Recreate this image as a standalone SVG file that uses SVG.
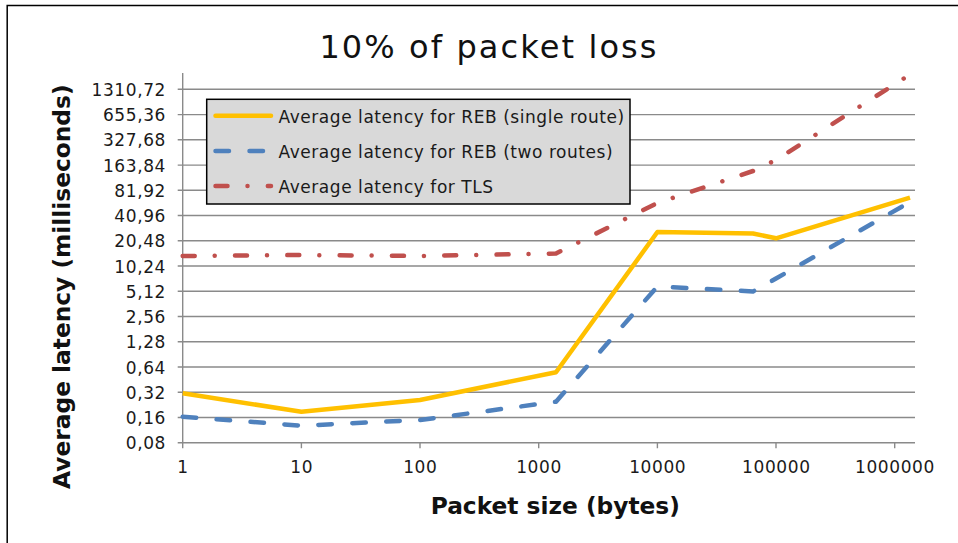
<svg xmlns="http://www.w3.org/2000/svg" width="958" height="543" viewBox="0 0 958 543">
  <style>
    .grid { stroke: #8a8a8a; stroke-width: 1.4; fill: none; }
    .tick { font-family: "DejaVu Sans", Verdana, sans-serif; font-size: 17px; letter-spacing: 0.6px; fill: #1a1a1a; }
    .ylab { text-anchor: end; }
    .xlab { text-anchor: middle; }
    .axtitle { font-family: "DejaVu Sans", Verdana, sans-serif; font-size: 23.3px; font-weight: bold; fill: #111; text-anchor: middle; }
    .legtext { font-family: "DejaVu Sans", Verdana, sans-serif; font-size: 17px; letter-spacing: 0.55px; fill: #1a1a1a; }
    .s-single { stroke: #FFC000; stroke-width: 4.5; fill: none; stroke-linejoin: round; }
    .s-two { stroke: #4F81BD; stroke-width: 4.5; fill: none; stroke-linecap: round; stroke-linejoin: round; stroke-dasharray: 13.5 20.5; }
    .s-tls { stroke: #C0504D; stroke-width: 4.5; fill: none; stroke-linecap: round; stroke-linejoin: round; stroke-dasharray: 12 20 0.01 20.3; }
  </style>

  <rect x="0" y="0" width="958" height="543" fill="#ffffff"/>
  <!-- chart frame (top and left edges) -->
  <path d="M7.2 543 V5.6 H958" fill="none" stroke="#000" stroke-width="1.5"/>

  <!-- title -->
  <text x="489" y="58" font-family="DejaVu Sans, Verdana, sans-serif" font-size="32" letter-spacing="2.1" fill="#111" text-anchor="middle">10% of packet loss</text>

  <!-- horizontal gridlines with outward ticks (log2 scale, 0.08 .. 1310.72) -->
  <g id="gridlines" class="grid">
    <path d="M177.7 89.3 H915 M177.7 114.6 H915 M177.7 139.8 H915 M177.7 165.1 H915 M177.7 190.3 H915 M177.7 215.5 H915 M177.7 240.8 H915 M177.7 266 H915 M177.7 291.3 H915 M177.7 316.5 H915 M177.7 341.7 H915 M177.7 367 H915 M177.7 392.2 H915 M177.7 417.5 H915"/>
  </g>

  <!-- axes -->
  <g id="axes" class="grid">
    <path d="M182.7 73 V448.2"/>
    <path d="M177.7 442.7 H915"/>
    <path d="M301.4 442.7 V448.2 M420 442.7 V448.2 M538.7 442.7 V448.2 M657.4 442.7 V448.2 M776 442.7 V448.2 M894.7 442.7 V448.2"/>
  </g>

  <!-- y tick labels -->
  <g id="y-labels" class="tick ylab">
    <text x="166" y="95.8">1310,72</text>
    <text x="166" y="121.1">655,36</text>
    <text x="166" y="146.3">327,68</text>
    <text x="166" y="171.6">163,84</text>
    <text x="166" y="196.8">81,92</text>
    <text x="166" y="222">40,96</text>
    <text x="166" y="247.3">20,48</text>
    <text x="166" y="272.5">10,24</text>
    <text x="166" y="297.8">5,12</text>
    <text x="166" y="323">2,56</text>
    <text x="166" y="348.2">1,28</text>
    <text x="166" y="373.5">0,64</text>
    <text x="166" y="398.7">0,32</text>
    <text x="166" y="424">0,16</text>
    <text x="166" y="449.2">0,08</text>
  </g>

  <!-- x tick labels -->
  <g id="x-labels" class="tick xlab">
    <text x="183" y="473">1</text>
    <text x="301.7" y="473">10</text>
    <text x="420.3" y="473">100</text>
    <text x="539" y="473">1000</text>
    <text x="657.7" y="473">10000</text>
    <text x="776.3" y="473">100000</text>
    <text x="895" y="473">1000000</text>
  </g>

  <!-- axis titles -->
  <text id="x-title" class="axtitle" x="555.3" y="514">Packet size (bytes)</text>
  <text id="y-title" class="axtitle" transform="translate(70 286.7) rotate(-90)">Average latency (milliseconds)</text>

  <!-- data series -->
  <g id="series">
    <polyline id="series-tls" class="s-tls" points="182.7,256 301.4,255 420,256 556,253.5 657.4,203 753,171 776,160 910,74.5"/>
    <polyline id="series-two" class="s-two" points="182.7,416.7 301.4,425.7 420,420 556,401.7 657.4,286.5 753,291.5 776,278.5 910,202"/>
    <polyline id="series-single" class="s-single" points="182.7,393.3 301.4,411.7 420,400 556,372.3 657.4,232 753,233.5 776,238.3 910,197.7"/>
  </g>

  <!-- legend -->
  <g id="legend">
    <rect x="206.7" y="99.3" width="423.3" height="104.7" fill="#d9d9d9" stroke="#000" stroke-width="1.5"/>
    <line class="s-single" x1="215.5" y1="115.7" x2="271" y2="115.7" stroke-linecap="round"/>
    <line class="s-two" x1="215.5" y1="151" x2="271" y2="151"/>
    <line class="s-tls" x1="215.5" y1="186" x2="271" y2="186"/>
    <text class="legtext" x="278.5" y="123.3">Average latency for REB (single route)</text>
    <text class="legtext" x="278.5" y="158.3">Average latency for REB (two routes)</text>
    <text class="legtext" x="278.5" y="193.3">Average latency for TLS</text>
  </g>
</svg>
